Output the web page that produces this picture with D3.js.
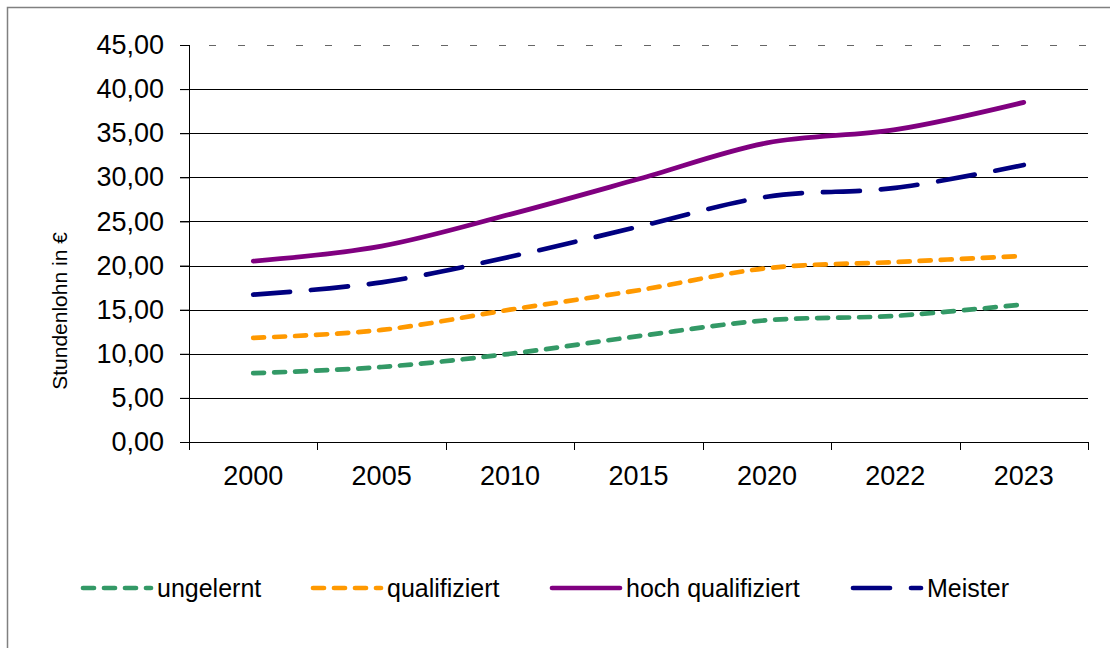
<!DOCTYPE html>
<html>
<head>
<meta charset="utf-8">
<script src="https://cdn.jsdelivr.net/npm/d3@7"></script>
<style>
  body { margin: 0; background: #fff; }
  text { font-family: "Liberation Sans", Arial, sans-serif; fill: #000; }
</style>
</head>
<body>
<svg class="chart" width="1110" height="648"></svg>
<script>
// Data
var years = ["2000", "2005", "2010", "2015", "2020", "2022", "2023"];
var ungelernt = [7.8, 8.5, 10.0, 12.0, 13.8, 14.3, 15.6];
var qualifiziert = [11.8, 12.7, 15.0, 17.2, 19.7, 20.4, 21.1];
var hochQualifiziert = [20.5, 22.2, 25.8, 29.8, 33.9, 35.4, 38.5];
var meister = [16.7, 18.1, 21.0, 24.4, 27.8, 28.8, 31.4];
var yTicks = [0, 5, 10, 15, 20, 25, 30, 35, 40, 45];

var seriesNames = ["ungelernt", "qualifiziert", "hoch qualifiziert", "Meister"];
var seriesValues = [ungelernt, qualifiziert, hochQualifiziert, meister];
var seriesColors = ["#339966", "#ff9900", "#800080", "#000080"];
var seriesDash = ["11,10", "11,10", null, "37,21"];

var margin = {top: 45, left: 189, right: 22, bottom: 206};
var width = 1110 - margin.left - margin.right,
	height = 648 - margin.top - margin.bottom;

var svg = d3.select(".chart");

// outer frame (runs off the canvas on the right and bottom)
svg.append("rect")
	.attr("x", 7.5).attr("y", 7.5)
	.attr("width", 1120).attr("height", 700)
	.style("fill", "none")
	.style("stroke", "#808080")
	.style("stroke-width", 1.5);

var chart = svg.append("g")
	.attr("transform", "translate(" + margin.left + "," + margin.top + ")");

var x = d3.scaleBand().domain(years).range([0, width]);
var y = d3.scaleLinear().domain([0, 45]).range([height, 0]);

var fmt = function(d) { return d3.format(".2f")(d).replace(".", ","); };

// Grid lines + y axis ticks
chart.selectAll(".grid")
	.data(yTicks.slice(1))
	.enter().append("line")
	.attr("x1", -9)
	.attr("x2", width)
	.attr("y1", function(d) { return Math.round(y(d)) + 0.5; })
	.attr("y2", function(d) { return Math.round(y(d)) + 0.5; })
	.style("stroke", function(d) { return d == 45 ? "#666" : "#000"; })
	.style("stroke-width", 1)
	.style("stroke-dasharray", function(d) { return d == 45 ? "7,22" : null; });

var yAxis = d3.axisLeft(y).tickValues(yTicks).tickFormat(fmt).tickSize(9).tickPadding(16);
var gy = chart.append("g").call(yAxis);
gy.select(".domain").remove();
gy.selectAll("line").style("stroke", "#000");
gy.selectAll("text")
	.style("font-size", "27px")
	.style("font-family", "Liberation Sans, Arial, sans-serif");

chart.append("line")
	.attr("x1", 0.5).attr("x2", 0.5)
	.attr("y1", 0).attr("y2", height + 8)
	.style("stroke", "#000");

// x axis with ticks between categories
var gx = chart.append("g").attr("transform", "translate(0," + height + ")");
gx.append("line")
	.attr("x1", 0).attr("x2", width)
	.attr("y1", 0.5).attr("y2", 0.5)
	.style("stroke", "#000");
gx.selectAll(".xtick")
	.data(years)
	.enter().append("line")
	.attr("x1", function(d) { return Math.round(x(d) + x.bandwidth()) + 0.5; })
	.attr("x2", function(d) { return Math.round(x(d) + x.bandwidth()) + 0.5; })
	.attr("y1", 0).attr("y2", 8)
	.style("stroke", "#000");
gx.selectAll(".xlab")
	.data(years)
	.enter().append("text")
	.attr("x", function(d) { return x(d) + x.bandwidth() / 2; })
	.attr("y", 34)
	.attr("dy", ".35em")
	.style("text-anchor", "middle")
	.style("font-size", "27px")
	.text(function(d) { return d; });

// axis title
svg.append("text")
	.attr("transform", "translate(67,311) rotate(-90)")
	.style("text-anchor", "middle")
	.style("font-size", "21px")
	.text("Stundenlohn in €");

// Lines
var line = d3.line()
	.x(function(d, i) { return x(years[i]) + x.bandwidth() / 2; })
	.y(function(d) { return y(d); })
	.curve(d3.curveCatmullRom.alpha(0.5));

seriesValues.forEach(function(vals, i) {
	chart.append("path")
		.datum(vals)
		.attr("d", line)
		.style("fill", "none")
		.style("stroke", seriesColors[i])
		.style("stroke-width", 4.7)
		.style("stroke-linecap", "round")
		.style("stroke-linejoin", "round")
		.style("stroke-dasharray", seriesDash[i]);
});

// Legend
var legendX = [83, 313, 552, 853];
var legend = svg.selectAll(".legend")
	.data(seriesNames)
	.enter().append("g")
	.attr("transform", function(d, i) { return "translate(" + legendX[i] + ",588)"; });

legend.append("line")
	.attr("x1", 0).attr("x2", 68)
	.attr("y1", 0).attr("y2", 0)
	.style("stroke", function(d, i) { return seriesColors[i]; })
	.style("stroke-width", 4.7)
	.style("stroke-linecap", "round")
	.style("stroke-dasharray", function(d, i) {
		return i < 2 ? "11,10" : (i == 3 ? "37,21" : null);
	});

legend.append("text")
	.attr("x", 74)
	.attr("y", 0)
	.attr("dy", ".35em")
	.style("font-size", "25px")
	.text(function(d) { return d; });
</script>
</body>
</html>
